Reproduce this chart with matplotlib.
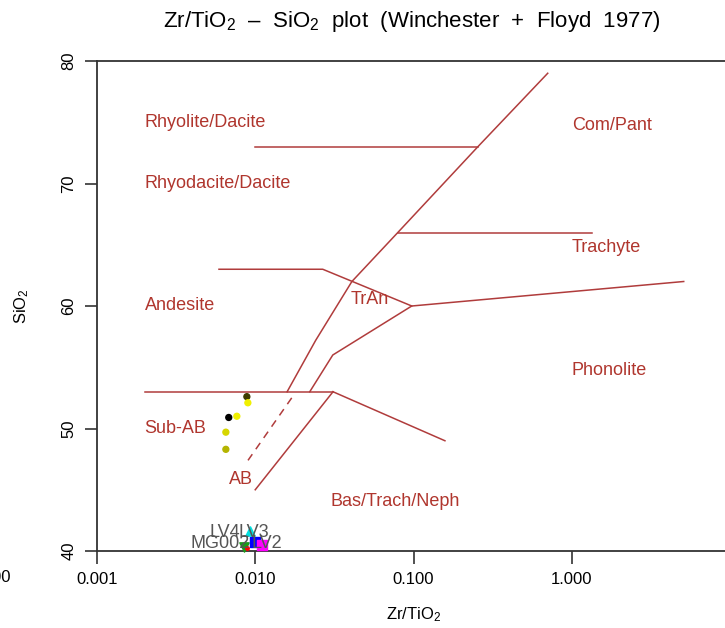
import numpy as np
import matplotlib.pyplot as plt

plt.rcParams['font.family'] = ['Liberation Sans', 'DejaVu Sans']
plt.rcParams['mathtext.fontset'] = 'custom'
plt.rcParams['mathtext.rm'] = 'Liberation Sans'
plt.rcParams['mathtext.it'] = 'Liberation Sans:italic'

# === Field boundaries (Zr/TiO2, SiO2) ===
boundaries = [
    [(0.01, 73), (0.255, 73)],
    [(0.08, 66), (1.34, 66)],
    [(0.0059, 63), (0.0267, 63), (0.0975, 60), (5.1, 62)],
    [(0.0159, 53), (0.0241, 57.2), (0.0408, 62), (0.0796, 66), (0.255, 73), (0.705, 79)],
    [(0.0221, 53), (0.0309, 56), (0.0975, 60)],
    [(0.002, 53), (0.031, 53)],
    [(0.031, 53), (0.01, 45)],
    [(0.031, 53), (0.158, 49)],
]
dashed_boundary = [(0.017, 52.5), (0.009, 47.4)]

# === Field names ===
field_names = ['Rhyolite/Dacite', 'Rhyodacite/Dacite', 'Andesite', 'Sub-AB', 'AB',
               'TrAn', 'Bas/Trach/Neph', 'Com/Pant', 'Trachyte', 'Phonolite']
field_x = [0.002, 0.002, 0.002, 0.002, 0.0068, 0.04, 0.030, 1.0, 1.0, 1.0]
field_y = [75, 70, 60, 50, 45.8, 60.5, 44, 74.7, 64.8, 54.7]

# === Samples ===
sample_zr_ti = [0.00885, 0.00898, 0.0068, 0.00765, 0.00652, 0.00652]
sample_sio2 = [52.6, 52.1, 50.9, 51.0, 49.7, 48.3]
sample_colors = ['#3d3d00', '#f0f000', '#000000', '#f0f000', '#d6d600', '#b4b400']

lv_zr_ti = [0.00847, 0.00994, 0.0110, 0.00891, 0.00924]
lv_sio2 = [40.33, 40.73, 40.5, 40.24, 41.6]
lv_colors = ['#1a9a1a', '#0000ff', '#ff00ff', '#ff0000', '#00e0e0']
lv_markers = ['v', 's', 's', '.', '^']

lv_labels = ['LV4', 'LV3', 'MG002', 'LV2']
lv_label_x = [0.00643, 0.0098, 0.00597, 0.0118]
lv_label_y = [41.5, 41.5, 40.6, 40.6]

line_col = '#b03c3c'
text_col = '#b0362e'

fig = plt.figure(figsize=(7.25, 6.28), dpi=100)
ax = fig.add_axes([97 / 725, 77 / 628, 633 / 725, 490 / 628])
ax.set_xscale('log')
ax.set_xlim(0.001, 10)
ax.set_ylim(40, 80)

for seg in boundaries:
    xs, ys = zip(*seg)
    ax.plot(xs, ys, color=line_col, lw=1.1)
xs, ys = zip(*dashed_boundary)
ax.plot(xs, ys, color=line_col, lw=1.1, ls=(0, (5, 4)))

for name, x, y in zip(field_names, field_x, field_y):
    ax.text(x, y, name, color=text_col, fontsize=13, ha='left', va='center')

ax.scatter(sample_zr_ti, sample_sio2, c=sample_colors, s=18, zorder=3, clip_on=False)

for x, y, c, m in zip(lv_zr_ti, lv_sio2, lv_colors, lv_markers):
    ax.scatter(x, y, color=c, marker=m, s=45 if m != '.' else 25, zorder=3, clip_on=False)

for lab, x, y in zip(lv_labels, lv_label_x, lv_label_y):
    ax.text(x, y, lab, color='#555555', fontsize=13, ha='center', va='center', zorder=4)

# Axes in R style
ax.spines['right'].set_visible(False)
for s in ['left', 'bottom', 'top']:
    ax.spines[s].set_linewidth(1.3)
    ax.spines[s].set_color('#333333')
ax.set_xticks([0.001, 0.01, 0.1, 1])
ax.set_xticklabels(['0.001', '0.010', '0.100', '1.000'])
ax.minorticks_off()
ax.set_yticks([40, 50, 60, 70, 80])
ax.tick_params(direction='out', length=9, width=1.2, color='#333333', labelsize=12, pad=6)
ax.tick_params(axis='y', labelrotation=90)
for lab in ax.get_yticklabels():
    lab.set_va('center')

ax.set_xlabel(r'Zr$/$TiO$_2$', fontsize=12, labelpad=13)
ax.set_ylabel(r'SiO$_2$', fontsize=12, labelpad=22)
# tick label of the next decade, cut off by the left edge
fig.text(11 / 725, 1 - 577 / 628, '0.000', fontsize=12, ha='right', va='center')

fig.text(412 / 725, 1 - 22 / 628,
         r'Zr$/$TiO$_2$  –  SiO$_2$  plot  (Winchester  +  Floyd  1977)',
         fontsize=16, ha='center', va='center')

plt.savefig('out.png', dpi=100)
